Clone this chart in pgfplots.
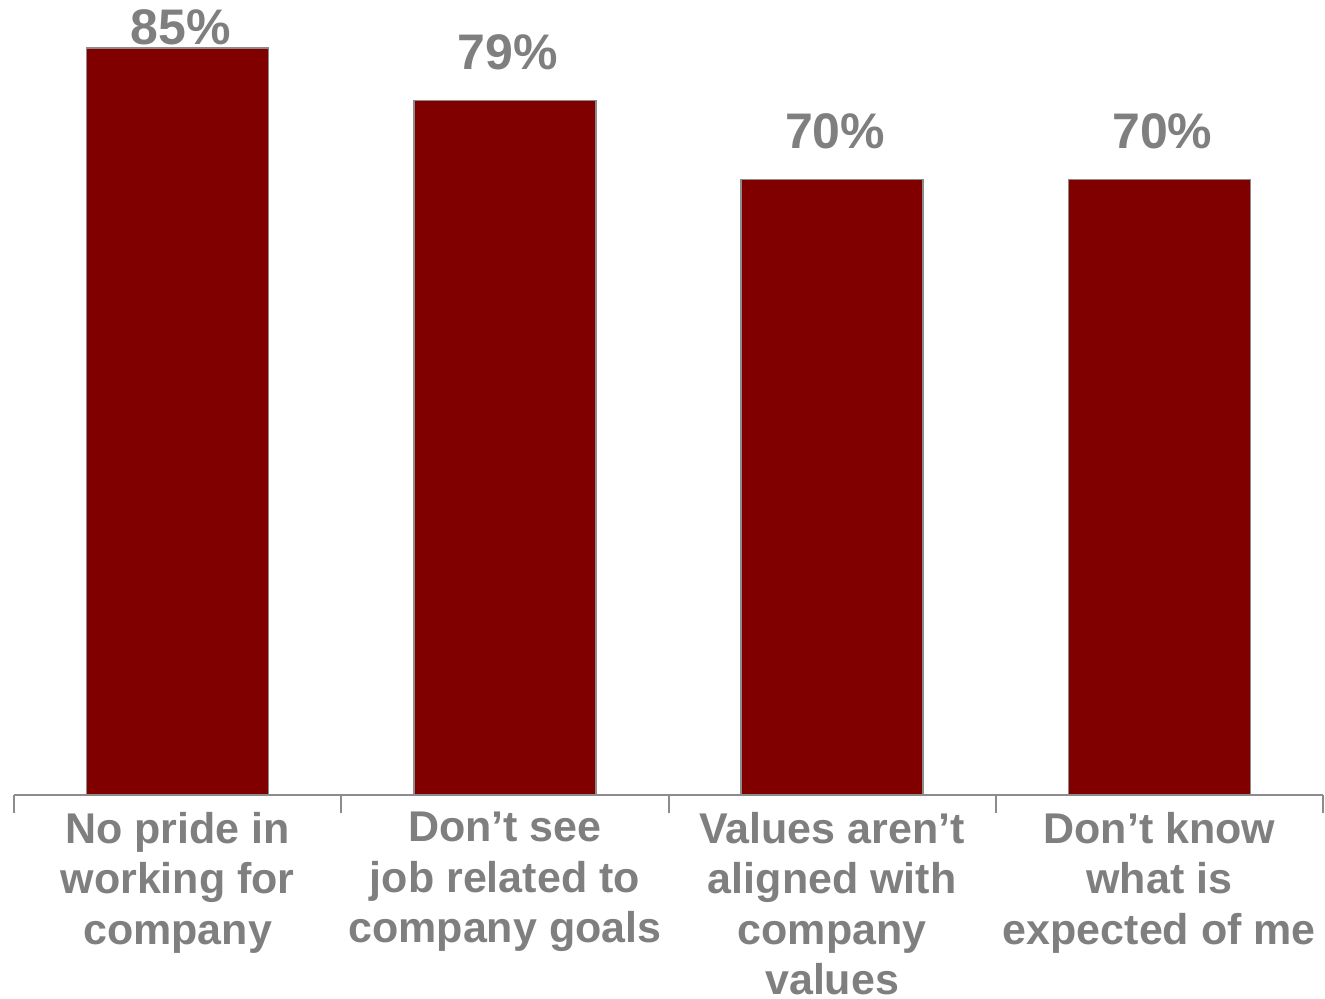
\documentclass[border=0pt]{standalone}
\usepackage{fontspec}
\setmainfont{Liberation Sans}
\usepackage{pgfplots}
\pgfplotsset{compat=1.18}
\definecolor{barred}{HTML}{800000}
\definecolor{txtgray}{HTML}{7F7F7F}
\definecolor{edgegray}{HTML}{8C8C8C}
\begin{document}
\begin{tikzpicture}
\begin{axis}[
  name=ax,
  scale only axis,
  width=654.5pt, height=397.5pt,
  xmin=-0.5, xmax=3.5,
  ymin=0, ymax=90.44,
  axis x line=bottom,
  axis y line=none,
  x axis line style={-, draw=edgegray, line width=1pt},
  xtick={0,1,2,3},
  xticklabels={{No pride in\\working for\\company},{Don’t see\\job related to\\company goals},{Values aren’t\\aligned with\\company\\values},{Don’t know\\what is\\expected of me}},
  major x tick style={draw=none},
  major tick length=0pt,
  minor xtick={-0.5,0.5,1.5,2.5,3.5},
  minor tick length=9pt,
  minor x tick style={draw=edgegray, line width=1pt},
  tick align=outside,
  xticklabel style={align=center, anchor=north, inner sep=0pt, yshift=-8.5pt,
    text=txtgray, font=\fontsize{21.5pt}{25.2pt}\selectfont\bfseries},
  clip=false,
]
\addplot[ybar, bar width=91pt, fill=barred, draw=edgegray, line width=0.75pt]
  coordinates {(0,85) (1,79) (2,70) (3,70)};
\node[anchor=base, text=txtgray, font=\fontsize{25pt}{29pt}\selectfont\bfseries, inner sep=0pt, xshift=1.5pt, yshift=1.5pt] at (axis cs:0,85) {85\%};
\node[anchor=base, text=txtgray, font=\fontsize{25pt}{29pt}\selectfont\bfseries, inner sep=0pt, xshift=1.5pt, yshift=15.5pt] at (axis cs:1,79) {79\%};
\node[anchor=base, text=txtgray, font=\fontsize{25pt}{29pt}\selectfont\bfseries, inner sep=0pt, xshift=1.5pt, yshift=15.5pt] at (axis cs:2,70) {70\%};
\node[anchor=base, text=txtgray, font=\fontsize{25pt}{29pt}\selectfont\bfseries, inner sep=0pt, xshift=1.5pt, yshift=15.5pt] at (axis cs:3,70) {70\%};
\end{axis}
\pgfresetboundingbox
\path[use as bounding box] (ax.south west) ++(-7pt,-102pt) rectangle ([xshift=1pt]ax.north east);
\end{tikzpicture}
\end{document}
